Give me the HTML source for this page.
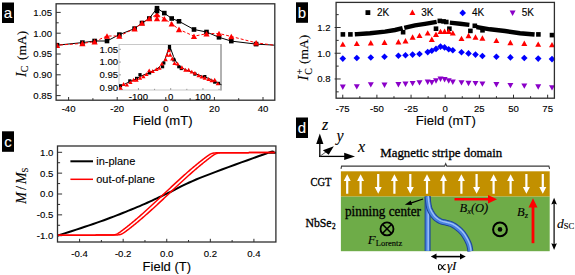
<!DOCTYPE html>
<html><head><meta charset="utf-8"><style>
html,body{margin:0;padding:0;background:#fff;overflow:hidden;width:575px;height:275px;}
svg{display:block;} text{stroke:#000;stroke-width:0.12px;} text.w{stroke:#fff;stroke-width:0.1px;} text.b{stroke-width:0.3px;}
</style></head><body>
<svg width="575" height="275" viewBox="0 0 575 275">
<rect width="575" height="275" fill="#fff"/>
<rect x="2" y="2.5" width="12" height="20.5" fill="#000"/>
<text class="w" x="8" y="18.0" font-family="Liberation Sans, sans-serif" font-size="15" fill="#fff" text-anchor="middle">a</text>
<defs><clipPath id="ca"><rect x="56.1" y="3.8" width="218.70000000000002" height="96.4"/></clipPath></defs>
<line x1="68.60" y1="100.2" x2="68.60" y2="97.0" stroke="#2e2e2e" stroke-width="1"/>
<text x="68.60" y="111.5" font-family="Liberation Sans, sans-serif" font-size="9.6" text-anchor="middle" fill="#000" >-40</text>
<line x1="117.20" y1="100.2" x2="117.20" y2="97.0" stroke="#2e2e2e" stroke-width="1"/>
<text x="117.20" y="111.5" font-family="Liberation Sans, sans-serif" font-size="9.6" text-anchor="middle" fill="#000" >-20</text>
<line x1="165.80" y1="100.2" x2="165.80" y2="97.0" stroke="#2e2e2e" stroke-width="1"/>
<text x="165.80" y="111.5" font-family="Liberation Sans, sans-serif" font-size="9.6" text-anchor="middle" fill="#000" >0</text>
<line x1="214.40" y1="100.2" x2="214.40" y2="97.0" stroke="#2e2e2e" stroke-width="1"/>
<text x="214.40" y="111.5" font-family="Liberation Sans, sans-serif" font-size="9.6" text-anchor="middle" fill="#000" >20</text>
<line x1="263.00" y1="100.2" x2="263.00" y2="97.0" stroke="#2e2e2e" stroke-width="1"/>
<text x="263.00" y="111.5" font-family="Liberation Sans, sans-serif" font-size="9.6" text-anchor="middle" fill="#000" >40</text>
<line x1="92.90" y1="100.2" x2="92.90" y2="98.2" stroke="#2e2e2e" stroke-width="1"/>
<line x1="141.50" y1="100.2" x2="141.50" y2="98.2" stroke="#2e2e2e" stroke-width="1"/>
<line x1="190.10" y1="100.2" x2="190.10" y2="98.2" stroke="#2e2e2e" stroke-width="1"/>
<line x1="238.70" y1="100.2" x2="238.70" y2="98.2" stroke="#2e2e2e" stroke-width="1"/>
<line x1="56.1" y1="95.60" x2="60.7" y2="95.60" stroke="#2e2e2e" stroke-width="1"/>
<text x="52" y="99.00" font-family="Liberation Sans, sans-serif" font-size="9.6" text-anchor="end" fill="#000" >0.85</text>
<line x1="56.1" y1="74.80" x2="60.7" y2="74.80" stroke="#2e2e2e" stroke-width="1"/>
<text x="52" y="78.20" font-family="Liberation Sans, sans-serif" font-size="9.6" text-anchor="end" fill="#000" >0.90</text>
<line x1="56.1" y1="54.00" x2="60.7" y2="54.00" stroke="#2e2e2e" stroke-width="1"/>
<text x="52" y="57.40" font-family="Liberation Sans, sans-serif" font-size="9.6" text-anchor="end" fill="#000" >0.95</text>
<line x1="56.1" y1="33.20" x2="60.7" y2="33.20" stroke="#2e2e2e" stroke-width="1"/>
<text x="52" y="36.60" font-family="Liberation Sans, sans-serif" font-size="9.6" text-anchor="end" fill="#000" >1.00</text>
<line x1="56.1" y1="12.40" x2="60.7" y2="12.40" stroke="#2e2e2e" stroke-width="1"/>
<text x="52" y="15.80" font-family="Liberation Sans, sans-serif" font-size="9.6" text-anchor="end" fill="#000" >1.05</text>
<line x1="56.1" y1="85.20" x2="58.7" y2="85.20" stroke="#2e2e2e" stroke-width="1"/>
<line x1="56.1" y1="64.40" x2="58.7" y2="64.40" stroke="#2e2e2e" stroke-width="1"/>
<line x1="56.1" y1="43.60" x2="58.7" y2="43.60" stroke="#2e2e2e" stroke-width="1"/>
<line x1="56.1" y1="22.80" x2="58.7" y2="22.80" stroke="#2e2e2e" stroke-width="1"/>
<g clip-path="url(#ca)"><polyline points="55,45.4 57,45.2 82.4,42.6 94.6,41 107,41 119.4,34.6 134.6,28.6 142,23 149.3,18.5 157,8.2 164.3,13.1 171.7,18.5 179,21.3 194,29.5 206.5,32 219,37.3 231.3,41.1 256.1,44.1 277,45.3" fill="none" stroke="#000" stroke-width="1"/><polyline points="55,45.4 57,45.2 82.4,43.4 94.6,41.6 107,36 119.4,36 134.6,28.6 142,23 149.3,18.5 157,14.4 164.3,18.8 171.7,23.7 179,29.4 194,36.2 206.5,33.7 219,33.5 231.3,36.5 256.1,42.8 277,45.6" fill="none" stroke="#f00" stroke-width="1" stroke-dasharray="3,2"/><rect x="54.70" y="42.90" width="4.6" height="4.6" fill="#000"/><rect x="80.10" y="40.30" width="4.6" height="4.6" fill="#000"/><rect x="92.30" y="38.70" width="4.6" height="4.6" fill="#000"/><rect x="104.70" y="38.70" width="4.6" height="4.6" fill="#000"/><rect x="117.10" y="32.30" width="4.6" height="4.6" fill="#000"/><rect x="132.30" y="26.30" width="4.6" height="4.6" fill="#000"/><rect x="139.70" y="20.70" width="4.6" height="4.6" fill="#000"/><rect x="147.00" y="16.20" width="4.6" height="4.6" fill="#000"/><rect x="154.70" y="5.90" width="4.6" height="4.6" fill="#000"/><rect x="162.00" y="10.80" width="4.6" height="4.6" fill="#000"/><rect x="169.40" y="16.20" width="4.6" height="4.6" fill="#000"/><rect x="176.70" y="19.00" width="4.6" height="4.6" fill="#000"/><rect x="191.70" y="27.20" width="4.6" height="4.6" fill="#000"/><rect x="204.20" y="29.70" width="4.6" height="4.6" fill="#000"/><rect x="216.70" y="35.00" width="4.6" height="4.6" fill="#000"/><rect x="229.00" y="38.80" width="4.6" height="4.6" fill="#000"/><rect x="253.80" y="41.80" width="4.6" height="4.6" fill="#000"/><rect x="274.70" y="43.00" width="4.6" height="4.6" fill="#000"/><path d="M53.90,47.99L60.10,47.99L57.00,42.41Z" fill="#f00"/><path d="M79.30,46.19L85.50,46.19L82.40,40.61Z" fill="#f00"/><path d="M91.50,44.39L97.70,44.39L94.60,38.81Z" fill="#f00"/><path d="M103.90,38.79L110.10,38.79L107.00,33.21Z" fill="#f00"/><path d="M116.30,38.79L122.50,38.79L119.40,33.21Z" fill="#f00"/><path d="M131.50,31.39L137.70,31.39L134.60,25.81Z" fill="#f00"/><path d="M138.90,25.79L145.10,25.79L142.00,20.21Z" fill="#f00"/><path d="M146.20,21.29L152.40,21.29L149.30,15.71Z" fill="#f00"/><path d="M153.90,17.19L160.10,17.19L157.00,11.61Z" fill="#f00"/><path d="M161.20,21.59L167.40,21.59L164.30,16.01Z" fill="#f00"/><path d="M168.60,26.49L174.80,26.49L171.70,20.91Z" fill="#f00"/><path d="M175.90,32.19L182.10,32.19L179.00,26.61Z" fill="#f00"/><path d="M190.90,38.99L197.10,38.99L194.00,33.41Z" fill="#f00"/><path d="M203.40,36.49L209.60,36.49L206.50,30.91Z" fill="#f00"/><path d="M215.90,36.29L222.10,36.29L219.00,30.71Z" fill="#f00"/><path d="M228.20,39.29L234.40,39.29L231.30,33.71Z" fill="#f00"/><path d="M253.00,45.59L259.20,45.59L256.10,40.01Z" fill="#f00"/><path d="M273.90,48.39L280.10,48.39L277.00,42.81Z" fill="#f00"/><path d="M153.90,21.19L160.10,21.19L157.00,15.61Z" fill="#f00"/><rect x="154.70" y="8.70" width="4.6" height="4.6" fill="#000"/></g>
<rect x="56.1" y="3.8" width="218.70000000000002" height="96.4" fill="none" stroke="#2e2e2e" stroke-width="1.3"/>
<text x="162.7" y="124.6" font-family="Liberation Sans, sans-serif" font-size="13.1" text-anchor="middle" fill="#000" >Field (mT)</text>
<g transform="translate(25.6,54.0) rotate(-90)"><text x="0" y="0" font-family="Liberation Serif, serif" font-size="14.2" text-anchor="middle"><tspan font-style="italic">I</tspan><tspan font-size="10" dy="2.4">C</tspan><tspan font-size="13.4" dx="2.4" dy="-2.4"> (mA)</tspan></text></g>
<rect x="119" y="44.5" width="102" height="45.5" fill="#fff" stroke="#c8c8c8" stroke-width="1"/>
<line x1="221" y1="44.0" x2="221" y2="90.5" stroke="#808080" stroke-width="1"/>
<line x1="119" y1="49.30" x2="121" y2="49.30" stroke="#888" stroke-width="0.8"/>
<text x="118.1" y="52.70" font-family="Liberation Sans, sans-serif" font-size="9.6" text-anchor="end" fill="#000" >1.05</text>
<line x1="119" y1="62.07" x2="121" y2="62.07" stroke="#888" stroke-width="0.8"/>
<text x="118.1" y="65.47" font-family="Liberation Sans, sans-serif" font-size="9.6" text-anchor="end" fill="#000" >1.00</text>
<line x1="119" y1="74.84" x2="121" y2="74.84" stroke="#888" stroke-width="0.8"/>
<text x="118.1" y="78.24" font-family="Liberation Sans, sans-serif" font-size="9.6" text-anchor="end" fill="#000" >0.95</text>
<line x1="119" y1="87.61" x2="121" y2="87.61" stroke="#888" stroke-width="0.8"/>
<text x="118.1" y="91.01" font-family="Liberation Sans, sans-serif" font-size="9.6" text-anchor="end" fill="#000" >0.90</text>
<line x1="138.45" y1="90" x2="138.45" y2="88" stroke="#888" stroke-width="0.8"/>
<text x="138.45" y="100.3" font-family="Liberation Sans, sans-serif" font-size="9.6" text-anchor="middle" fill="#000" >-100</text>
<line x1="170.70" y1="90" x2="170.70" y2="88" stroke="#888" stroke-width="0.8"/>
<text x="170.70" y="100.3" font-family="Liberation Sans, sans-serif" font-size="9.6" text-anchor="middle" fill="#000" >0</text>
<line x1="202.95" y1="90" x2="202.95" y2="88" stroke="#888" stroke-width="0.8"/>
<text x="202.95" y="100.3" font-family="Liberation Sans, sans-serif" font-size="9.6" text-anchor="middle" fill="#000" >100</text>
<line x1="122.32" y1="90" x2="122.32" y2="88.8" stroke="#888" stroke-width="0.8"/>
<line x1="154.57" y1="90" x2="154.57" y2="88.8" stroke="#888" stroke-width="0.8"/>
<line x1="186.82" y1="90" x2="186.82" y2="88.8" stroke="#888" stroke-width="0.8"/>
<line x1="219.07" y1="90" x2="219.07" y2="88.8" stroke="#888" stroke-width="0.8"/>
<g clip-path="url(#ci)"><defs><clipPath id="ci"><rect x="119" y="44" width="102.5" height="46"/></clipPath></defs><polyline points="119,86.8 125,84 130,81.5 136,79 140,76.5 146,74 150,72.3 156,69.5 160,66.5 163,63.5 165.5,58 167.5,52 169.5,45.7 171.5,51 173.5,56.5 176.3,62 180,66.5 185,69.5 190,71.5 195,73.5 200,75.5 205,77 210,79 215,81.5 219,83.5 222,85" fill="none" stroke="#000" stroke-width="1"/><rect x="118.90" y="84.20" width="3.2" height="3.2" fill="#000"/><rect x="128.20" y="79.30" width="3.2" height="3.2" fill="#000"/><rect x="135.00" y="76.80" width="3.2" height="3.2" fill="#000"/><rect x="138.40" y="73.10" width="3.2" height="3.2" fill="#000"/><rect x="148.00" y="71.30" width="3.2" height="3.2" fill="#000"/><rect x="161.00" y="65.10" width="3.2" height="3.2" fill="#000"/><rect x="162.20" y="61.40" width="3.2" height="3.2" fill="#000"/><rect x="167.90" y="44.90" width="3.2" height="3.2" fill="#000"/><rect x="167.90" y="47.40" width="3.2" height="3.2" fill="#000"/><rect x="172.30" y="58.30" width="3.2" height="3.2" fill="#000"/><rect x="177.20" y="65.10" width="3.2" height="3.2" fill="#000"/><rect x="179.70" y="66.90" width="3.2" height="3.2" fill="#000"/><rect x="193.30" y="72.50" width="3.2" height="3.2" fill="#000"/><rect x="203.20" y="75.00" width="3.2" height="3.2" fill="#000"/><rect x="213.10" y="80.50" width="3.2" height="3.2" fill="#000"/><rect x="216.80" y="81.80" width="3.2" height="3.2" fill="#000"/><path d="M118.35,89.64L122.65,89.64L120.50,85.77Z" fill="#f00"/><path d="M121.45,85.94L125.75,85.94L123.60,82.06Z" fill="#f00"/><path d="M124.75,86.53L129.05,86.53L126.90,82.66Z" fill="#f00"/><path d="M128.25,84.03L132.55,84.03L130.40,80.16Z" fill="#f00"/><path d="M131.35,81.64L135.65,81.64L133.50,77.77Z" fill="#f00"/><path d="M134.45,81.64L138.75,81.64L136.60,77.77Z" fill="#f00"/><path d="M137.85,79.73L142.15,79.73L140.00,75.86Z" fill="#f00"/><path d="M141.25,78.23L145.55,78.23L143.40,74.36Z" fill="#f00"/><path d="M144.35,76.03L148.65,76.03L146.50,72.16Z" fill="#f00"/><path d="M147.05,72.34L151.35,72.34L149.20,68.47Z" fill="#f00"/><path d="M150.55,72.94L154.85,72.94L152.70,69.06Z" fill="#f00"/><path d="M154.25,71.03L158.55,71.03L156.40,67.16Z" fill="#f00"/><path d="M157.35,69.84L161.65,69.84L159.50,65.97Z" fill="#f00"/><path d="M159.75,65.53L164.05,65.53L161.90,61.66Z" fill="#f00"/><path d="M163.45,61.14L167.75,61.14L165.60,57.27Z" fill="#f00"/><path d="M165.05,56.73L169.35,56.73L167.20,52.86Z" fill="#f00"/><path d="M166.75,52.34L171.05,52.34L168.90,48.46Z" fill="#f00"/><path d="M168.05,56.73L172.35,56.73L170.20,52.86Z" fill="#f00"/><path d="M170.15,60.44L174.45,60.44L172.30,56.56Z" fill="#f00"/><path d="M172.35,64.94L176.65,64.94L174.50,61.06Z" fill="#f00"/><path d="M175.45,65.53L179.75,65.53L177.60,61.66Z" fill="#f00"/><path d="M179.75,69.23L184.05,69.23L181.90,65.36Z" fill="#f00"/><path d="M183.25,71.73L187.55,71.73L185.40,67.86Z" fill="#f00"/><path d="M186.55,71.73L190.85,71.73L188.70,67.86Z" fill="#f00"/><path d="M189.65,73.53L193.95,73.53L191.80,69.66Z" fill="#f00"/><path d="M192.75,74.84L197.05,74.84L194.90,70.97Z" fill="#f00"/><path d="M196.45,77.23L200.75,77.23L198.60,73.36Z" fill="#f00"/><path d="M199.55,78.53L203.85,78.53L201.70,74.66Z" fill="#f00"/><path d="M202.65,79.73L206.95,79.73L204.80,75.86Z" fill="#f00"/><path d="M206.35,80.94L210.65,80.94L208.50,77.06Z" fill="#f00"/><path d="M209.45,82.23L213.75,82.23L211.60,78.36Z" fill="#f00"/><path d="M212.55,81.64L216.85,81.64L214.70,77.77Z" fill="#f00"/><path d="M215.65,85.34L219.95,85.34L217.80,81.47Z" fill="#f00"/></g>
<rect x="296" y="2.3" width="12" height="20.5" fill="#000"/>
<text class="w" x="302" y="17.8" font-family="Liberation Sans, sans-serif" font-size="15" fill="#fff" text-anchor="middle">b</text>
<line x1="342.75" y1="98.2" x2="342.75" y2="94.7" stroke="#2e2e2e" stroke-width="1"/>
<text x="342.75" y="111.8" font-family="Liberation Sans, sans-serif" font-size="9.6" text-anchor="middle" fill="#000" >-75</text>
<line x1="376.90" y1="98.2" x2="376.90" y2="94.7" stroke="#2e2e2e" stroke-width="1"/>
<text x="376.90" y="111.8" font-family="Liberation Sans, sans-serif" font-size="9.6" text-anchor="middle" fill="#000" >-50</text>
<line x1="411.05" y1="98.2" x2="411.05" y2="94.7" stroke="#2e2e2e" stroke-width="1"/>
<text x="411.05" y="111.8" font-family="Liberation Sans, sans-serif" font-size="9.6" text-anchor="middle" fill="#000" >-25</text>
<line x1="445.20" y1="98.2" x2="445.20" y2="94.7" stroke="#2e2e2e" stroke-width="1"/>
<text x="445.20" y="111.8" font-family="Liberation Sans, sans-serif" font-size="9.6" text-anchor="middle" fill="#000" >0</text>
<line x1="479.35" y1="98.2" x2="479.35" y2="94.7" stroke="#2e2e2e" stroke-width="1"/>
<text x="479.35" y="111.8" font-family="Liberation Sans, sans-serif" font-size="9.6" text-anchor="middle" fill="#000" >25</text>
<line x1="513.50" y1="98.2" x2="513.50" y2="94.7" stroke="#2e2e2e" stroke-width="1"/>
<text x="513.50" y="111.8" font-family="Liberation Sans, sans-serif" font-size="9.6" text-anchor="middle" fill="#000" >50</text>
<line x1="547.65" y1="98.2" x2="547.65" y2="94.7" stroke="#2e2e2e" stroke-width="1"/>
<text x="547.65" y="111.8" font-family="Liberation Sans, sans-serif" font-size="9.6" text-anchor="middle" fill="#000" >75</text>
<line x1="359.82" y1="98.2" x2="359.82" y2="96.2" stroke="#2e2e2e" stroke-width="1"/>
<line x1="393.97" y1="98.2" x2="393.97" y2="96.2" stroke="#2e2e2e" stroke-width="1"/>
<line x1="428.12" y1="98.2" x2="428.12" y2="96.2" stroke="#2e2e2e" stroke-width="1"/>
<line x1="462.27" y1="98.2" x2="462.27" y2="96.2" stroke="#2e2e2e" stroke-width="1"/>
<line x1="496.43" y1="98.2" x2="496.43" y2="96.2" stroke="#2e2e2e" stroke-width="1"/>
<line x1="530.58" y1="98.2" x2="530.58" y2="96.2" stroke="#2e2e2e" stroke-width="1"/>
<line x1="334.6" y1="78.98" x2="340.70000000000005" y2="78.98" stroke="#2e2e2e" stroke-width="1"/>
<text x="330.5" y="82.38" font-family="Liberation Sans, sans-serif" font-size="9.6" text-anchor="end" fill="#000" >0.8</text>
<line x1="334.6" y1="53.24" x2="340.70000000000005" y2="53.24" stroke="#2e2e2e" stroke-width="1"/>
<text x="330.5" y="56.64" font-family="Liberation Sans, sans-serif" font-size="9.6" text-anchor="end" fill="#000" >1.0</text>
<line x1="334.6" y1="27.50" x2="340.70000000000005" y2="27.50" stroke="#2e2e2e" stroke-width="1"/>
<text x="330.5" y="30.90" font-family="Liberation Sans, sans-serif" font-size="9.6" text-anchor="end" fill="#000" >1.2</text>
<line x1="336.1" y1="91.85" x2="338.70000000000005" y2="91.85" stroke="#2e2e2e" stroke-width="1"/>
<line x1="336.1" y1="66.11" x2="338.70000000000005" y2="66.11" stroke="#2e2e2e" stroke-width="1"/>
<line x1="336.1" y1="40.37" x2="338.70000000000005" y2="40.37" stroke="#2e2e2e" stroke-width="1"/>
<line x1="336.1" y1="14.63" x2="338.70000000000005" y2="14.63" stroke="#2e2e2e" stroke-width="1"/>
<polyline points="357.0,34.1 370,33.2 385,31.6 395,30 400.5,28.6" fill="none" stroke="#000" stroke-width="4.4" stroke-linecap="square"/><polyline points="406.4,27.4 415,25.4 425,23.8 434.5,22.2" fill="none" stroke="#000" stroke-width="4.4" stroke-linecap="square"/><polyline points="452,22.9 460,23.8 467.2,24.6" fill="none" stroke="#000" stroke-width="4.4" stroke-linecap="square"/><polyline points="478.6,27.4 490,29.3 505,31 520,33.2 532.4,34.3" fill="none" stroke="#000" stroke-width="4.4" stroke-linecap="square"/><rect x="340.60" y="32.10" width="4.6" height="4.6" fill="#000"/><rect x="348.10" y="32.10" width="4.6" height="4.6" fill="#000"/><rect x="400.80" y="29.90" width="4.6" height="4.6" fill="#000"/><rect x="433.70" y="26.40" width="4.6" height="4.6" fill="#000"/><rect x="437.50" y="18.60" width="4.6" height="4.6" fill="#000"/><rect x="441.30" y="19.10" width="4.6" height="4.6" fill="#000"/><rect x="444.00" y="19.70" width="4.6" height="4.6" fill="#000"/><rect x="447.10" y="26.40" width="4.6" height="4.6" fill="#000"/><rect x="468.10" y="28.60" width="4.6" height="4.6" fill="#000"/><rect x="472.50" y="23.50" width="4.6" height="4.6" fill="#000"/><rect x="480.20" y="28.00" width="4.6" height="4.6" fill="#000"/><rect x="536.10" y="32.10" width="4.6" height="4.6" fill="#000"/><rect x="549.70" y="32.80" width="4.6" height="4.6" fill="#000"/><path d="M339.80,46.80L345.80,46.80L342.80,41.40Z" fill="#f00"/><path d="M353.80,46.10L359.80,46.10L356.80,40.70Z" fill="#f00"/><path d="M367.80,45.50L373.80,45.50L370.80,40.10Z" fill="#f00"/><path d="M381.50,45.00L387.50,45.00L384.50,39.60Z" fill="#f00"/><path d="M395.40,44.50L401.40,44.50L398.40,39.10Z" fill="#f00"/><path d="M402.50,43.50L408.50,43.50L405.50,38.10Z" fill="#f00"/><path d="M409.60,39.70L415.60,39.70L412.60,34.30Z" fill="#f00"/><path d="M416.50,38.10L422.50,38.10L419.50,32.70Z" fill="#f00"/><path d="M424.70,35.60L430.70,35.60L427.70,30.20Z" fill="#f00"/><path d="M428.80,42.00L434.80,42.00L431.80,36.60Z" fill="#f00"/><path d="M433.00,37.00L439.00,37.00L436.00,31.60Z" fill="#f00"/><path d="M437.50,34.10L443.50,34.10L440.50,28.70Z" fill="#f00"/><path d="M441.60,34.00L447.60,34.00L444.60,28.60Z" fill="#f00"/><path d="M445.70,34.00L451.70,34.00L448.70,28.60Z" fill="#f00"/><path d="M449.80,35.60L455.80,35.60L452.80,30.20Z" fill="#f00"/><path d="M458.50,41.10L464.50,41.10L461.50,35.70Z" fill="#f00"/><path d="M465.50,38.20L471.50,38.20L468.50,32.80Z" fill="#f00"/><path d="M472.50,39.70L478.50,39.70L475.50,34.30Z" fill="#f00"/><path d="M479.40,40.70L485.40,40.70L482.40,35.30Z" fill="#f00"/><path d="M493.40,43.10L499.40,43.10L496.40,37.70Z" fill="#f00"/><path d="M507.40,45.20L513.40,45.20L510.40,39.80Z" fill="#f00"/><path d="M521.30,46.00L527.30,46.00L524.30,40.60Z" fill="#f00"/><path d="M535.20,46.80L541.20,46.80L538.20,41.40Z" fill="#f00"/><path d="M549.00,47.30L555.00,47.30L552.00,41.90Z" fill="#f00"/><path d="M342.80,55.30L346.10,58.60L342.80,61.90L339.50,58.60Z" fill="#00f"/><path d="M356.80,54.70L360.10,58.00L356.80,61.30L353.50,58.00Z" fill="#00f"/><path d="M370.80,54.20L374.10,57.50L370.80,60.80L367.50,57.50Z" fill="#00f"/><path d="M384.50,53.40L387.80,56.70L384.50,60.00L381.20,56.70Z" fill="#00f"/><path d="M398.40,52.40L401.70,55.70L398.40,59.00L395.10,55.70Z" fill="#00f"/><path d="M405.50,52.00L408.80,55.30L405.50,58.60L402.20,55.30Z" fill="#00f"/><path d="M412.60,51.30L415.90,54.60L412.60,57.90L409.30,54.60Z" fill="#00f"/><path d="M419.50,50.70L422.80,54.00L419.50,57.30L416.20,54.00Z" fill="#00f"/><path d="M427.70,48.80L431.00,52.10L427.70,55.40L424.40,52.10Z" fill="#00f"/><path d="M431.80,47.50L435.10,50.80L431.80,54.10L428.50,50.80Z" fill="#00f"/><path d="M436.00,45.60L439.30,48.90L436.00,52.20L432.70,48.90Z" fill="#00f"/><path d="M440.50,43.30L443.80,46.60L440.50,49.90L437.20,46.60Z" fill="#00f"/><path d="M444.60,44.10L447.90,47.40L444.60,50.70L441.30,47.40Z" fill="#00f"/><path d="M448.70,45.90L452.00,49.20L448.70,52.50L445.40,49.20Z" fill="#00f"/><path d="M452.80,47.00L456.10,50.30L452.80,53.60L449.50,50.30Z" fill="#00f"/><path d="M461.50,49.00L464.80,52.30L461.50,55.60L458.20,52.30Z" fill="#00f"/><path d="M468.50,50.10L471.80,53.40L468.50,56.70L465.20,53.40Z" fill="#00f"/><path d="M475.50,51.30L478.80,54.60L475.50,57.90L472.20,54.60Z" fill="#00f"/><path d="M482.40,52.70L485.70,56.00L482.40,59.30L479.10,56.00Z" fill="#00f"/><path d="M496.40,53.40L499.70,56.70L496.40,60.00L493.10,56.70Z" fill="#00f"/><path d="M510.40,54.10L513.70,57.40L510.40,60.70L507.10,57.40Z" fill="#00f"/><path d="M524.30,54.70L527.60,58.00L524.30,61.30L521.00,58.00Z" fill="#00f"/><path d="M538.20,55.30L541.50,58.60L538.20,61.90L534.90,58.60Z" fill="#00f"/><path d="M552.00,55.80L555.30,59.10L552.00,62.40L548.70,59.10Z" fill="#00f"/><path d="M339.80,84.50L345.80,84.50L342.80,89.90Z" fill="#8a00c8"/><path d="M353.80,84.20L359.80,84.20L356.80,89.60Z" fill="#8a00c8"/><path d="M367.80,82.20L373.80,82.20L370.80,87.60Z" fill="#8a00c8"/><path d="M381.50,82.50L387.50,82.50L384.50,87.90Z" fill="#8a00c8"/><path d="M395.40,82.00L401.40,82.00L398.40,87.40Z" fill="#8a00c8"/><path d="M402.50,81.60L408.50,81.60L405.50,87.00Z" fill="#8a00c8"/><path d="M409.60,80.90L415.60,80.90L412.60,86.30Z" fill="#8a00c8"/><path d="M416.50,80.20L422.50,80.20L419.50,85.60Z" fill="#8a00c8"/><path d="M424.70,79.60L430.70,79.60L427.70,85.00Z" fill="#8a00c8"/><path d="M428.80,80.10L434.80,80.10L431.80,85.50Z" fill="#8a00c8"/><path d="M433.00,78.30L439.00,78.30L436.00,83.70Z" fill="#8a00c8"/><path d="M437.50,76.50L443.50,76.50L440.50,81.90Z" fill="#8a00c8"/><path d="M441.60,77.00L447.60,77.00L444.60,82.40Z" fill="#8a00c8"/><path d="M445.70,78.30L451.70,78.30L448.70,83.70Z" fill="#8a00c8"/><path d="M449.80,79.60L455.80,79.60L452.80,85.00Z" fill="#8a00c8"/><path d="M458.50,80.20L464.50,80.20L461.50,85.60Z" fill="#8a00c8"/><path d="M465.50,80.80L471.50,80.80L468.50,86.20Z" fill="#8a00c8"/><path d="M472.50,80.90L478.50,80.90L475.50,86.30Z" fill="#8a00c8"/><path d="M479.40,81.40L485.40,81.40L482.40,86.80Z" fill="#8a00c8"/><path d="M493.40,82.00L499.40,82.00L496.40,87.40Z" fill="#8a00c8"/><path d="M507.40,82.90L513.40,82.90L510.40,88.30Z" fill="#8a00c8"/><path d="M521.30,83.40L527.30,83.40L524.30,88.80Z" fill="#8a00c8"/><path d="M535.20,84.30L541.20,84.30L538.20,89.70Z" fill="#8a00c8"/><path d="M549.00,85.20L555.00,85.20L552.00,90.60Z" fill="#8a00c8"/>
<rect x="336.1" y="2.4" width="218.29999999999995" height="95.8" fill="none" stroke="#2e2e2e" stroke-width="1.3"/>
<rect x="365.50" y="10.20" width="4.8" height="4.8" fill="#000"/>
<text x="377" y="16.2" font-family="Liberation Sans, sans-serif" font-size="10" text-anchor="start" fill="#000" >2K</text>
<path d="M409.40,15.00L415.40,15.00L412.40,9.60Z" fill="#f00"/>
<text x="421.2" y="16.2" font-family="Liberation Sans, sans-serif" font-size="10" text-anchor="start" fill="#000" >3K</text>
<path d="M462.70,9.60L466.00,12.90L462.70,16.20L459.40,12.90Z" fill="#00f"/>
<text x="471.9" y="16.2" font-family="Liberation Sans, sans-serif" font-size="10" text-anchor="start" fill="#000" >4K</text>
<path d="M509.60,10.50L515.60,10.50L512.60,15.90Z" fill="#8a00c8"/>
<text x="521.7" y="16.2" font-family="Liberation Sans, sans-serif" font-size="10" text-anchor="start" fill="#000" >5K</text>
<text x="445.8" y="124.6" font-family="Liberation Sans, sans-serif" font-size="13.2" text-anchor="middle" fill="#000" >Field (mT)</text>
<g transform="translate(308.4,57.6) rotate(-90)"><text x="0" y="0" font-family="Liberation Serif, serif" font-size="14.5" text-anchor="middle"><tspan font-style="italic">I</tspan><tspan font-size="10" dx="0.8" dy="3.2">C</tspan><tspan font-size="10" dx="-6.4" dy="-8.6">+</tspan><tspan font-size="13.5" dx="1.6" dy="5.4"> (mA)</tspan></text></g>
<rect x="2" y="131.3" width="12" height="20.5" fill="#000"/>
<text class="w" x="8" y="146.8" font-family="Liberation Sans, sans-serif" font-size="15" fill="#fff" text-anchor="middle">c</text>
<line x1="79.59" y1="242.0" x2="79.59" y2="238.8" stroke="#2e2e2e" stroke-width="1"/>
<text x="79.59" y="256.5" font-family="Liberation Sans, sans-serif" font-size="9.6" text-anchor="middle" fill="#000" >-0.4</text>
<line x1="123.17" y1="242.0" x2="123.17" y2="238.8" stroke="#2e2e2e" stroke-width="1"/>
<text x="123.17" y="256.5" font-family="Liberation Sans, sans-serif" font-size="9.6" text-anchor="middle" fill="#000" >-0.2</text>
<line x1="166.75" y1="242.0" x2="166.75" y2="238.8" stroke="#2e2e2e" stroke-width="1"/>
<text x="166.75" y="256.5" font-family="Liberation Sans, sans-serif" font-size="9.6" text-anchor="middle" fill="#000" >0.0</text>
<line x1="210.33" y1="242.0" x2="210.33" y2="238.8" stroke="#2e2e2e" stroke-width="1"/>
<text x="210.33" y="256.5" font-family="Liberation Sans, sans-serif" font-size="9.6" text-anchor="middle" fill="#000" >0.2</text>
<line x1="253.91" y1="242.0" x2="253.91" y2="238.8" stroke="#2e2e2e" stroke-width="1"/>
<text x="253.91" y="256.5" font-family="Liberation Sans, sans-serif" font-size="9.6" text-anchor="middle" fill="#000" >0.4</text>
<line x1="101.38" y1="242.0" x2="101.38" y2="240.0" stroke="#2e2e2e" stroke-width="1"/>
<line x1="144.96" y1="242.0" x2="144.96" y2="240.0" stroke="#2e2e2e" stroke-width="1"/>
<line x1="188.54" y1="242.0" x2="188.54" y2="240.0" stroke="#2e2e2e" stroke-width="1"/>
<line x1="232.12" y1="242.0" x2="232.12" y2="240.0" stroke="#2e2e2e" stroke-width="1"/>
<line x1="57.5" y1="235.70" x2="62.1" y2="235.70" stroke="#2e2e2e" stroke-width="1"/>
<text x="53.4" y="239.10" font-family="Liberation Sans, sans-serif" font-size="9.6" text-anchor="end" fill="#000" >-1.0</text>
<line x1="57.5" y1="214.85" x2="62.1" y2="214.85" stroke="#2e2e2e" stroke-width="1"/>
<text x="53.4" y="218.25" font-family="Liberation Sans, sans-serif" font-size="9.6" text-anchor="end" fill="#000" >-0.5</text>
<line x1="57.5" y1="194.00" x2="62.1" y2="194.00" stroke="#2e2e2e" stroke-width="1"/>
<text x="53.4" y="197.40" font-family="Liberation Sans, sans-serif" font-size="9.6" text-anchor="end" fill="#000" >0.0</text>
<line x1="57.5" y1="173.15" x2="62.1" y2="173.15" stroke="#2e2e2e" stroke-width="1"/>
<text x="53.4" y="176.55" font-family="Liberation Sans, sans-serif" font-size="9.6" text-anchor="end" fill="#000" >0.5</text>
<line x1="57.5" y1="152.30" x2="62.1" y2="152.30" stroke="#2e2e2e" stroke-width="1"/>
<text x="53.4" y="155.70" font-family="Liberation Sans, sans-serif" font-size="9.6" text-anchor="end" fill="#000" >1.0</text>
<line x1="57.5" y1="225.28" x2="60.1" y2="225.28" stroke="#2e2e2e" stroke-width="1"/>
<line x1="57.5" y1="204.43" x2="60.1" y2="204.43" stroke="#2e2e2e" stroke-width="1"/>
<line x1="57.5" y1="183.57" x2="60.1" y2="183.57" stroke="#2e2e2e" stroke-width="1"/>
<line x1="57.5" y1="162.72" x2="60.1" y2="162.72" stroke="#2e2e2e" stroke-width="1"/>
<g clip-path="url(#cc)"><defs><clipPath id="cc"><rect x="57" y="145" width="219" height="97"/></clipPath></defs><polyline points="56.50,236.00 58.66,235.29 61.39,234.41 64.60,233.37 68.22,232.20 72.14,230.93 76.28,229.59 80.54,228.19 84.84,226.78 89.08,225.36 93.19,223.98 97.05,222.65 100.60,221.40 103.92,220.20 107.19,219.00 110.40,217.81 113.55,216.61 116.65,215.42 119.70,214.23 122.69,213.05 125.64,211.87 128.55,210.69 131.41,209.52 134.22,208.36 137.00,207.20 139.70,206.06 142.30,204.94 144.82,203.83 147.28,202.73 149.69,201.64 152.07,200.55 154.44,199.45 156.82,198.34 159.22,197.22 161.67,196.07 164.17,194.90 166.75,193.70 169.29,192.49 171.71,191.30 174.04,190.11 176.35,188.92 178.69,187.72 181.10,186.48 183.63,185.21 186.35,183.89 189.29,182.51 192.51,181.06 196.06,179.53 200.00,177.90 204.56,176.09 209.84,174.06 215.68,171.85 221.92,169.52 228.38,167.14 234.91,164.75 241.34,162.42 247.50,160.19 253.23,158.13 258.37,156.29 262.75,154.73 266.20,153.50 268.72,152.61 270.47,152.01 271.58,151.66 272.14,151.51 272.27,151.53 272.08,151.67 271.69,151.89 271.20,152.16 270.72,152.43 270.37,152.66 270.26,152.81 270.50,152.85 270.99,152.81 271.53,152.78 272.12,152.75 272.74,152.73 273.38,152.70 274.02,152.68 274.64,152.67 275.23,152.65 275.78,152.64 276.27,152.62 276.68,152.61 277.00,152.60" fill="none" stroke="#000" stroke-width="2"/><polyline points="56.71,235.30 57.26,235.30 57.80,235.30 58.34,235.30 58.89,235.29 59.43,235.29 59.98,235.29 60.52,235.29 61.07,235.28 61.61,235.28 62.16,235.28 62.70,235.28 63.25,235.27 63.79,235.27 64.34,235.27 64.88,235.27 65.43,235.26 65.97,235.26 66.52,235.26 67.06,235.26 67.61,235.25 68.15,235.25 68.69,235.25 69.24,235.25 69.78,235.24 70.33,235.24 70.87,235.24 71.42,235.24 71.96,235.23 72.51,235.23 73.05,235.23 73.60,235.23 74.14,235.22 74.69,235.22 75.23,235.22 75.78,235.22 76.32,235.21 76.87,235.21 77.41,235.21 77.96,235.21 78.50,235.20 79.05,235.20 79.59,235.20 80.13,235.20 80.68,235.19 81.22,235.19 81.77,235.19 82.31,235.19 82.86,235.18 83.40,235.18 83.95,235.18 84.49,235.18 85.04,235.17 85.58,235.17 86.13,235.17 86.67,235.17 87.22,235.16 87.76,235.16 88.31,235.16 88.85,235.16 89.40,235.15 89.94,235.15 90.48,235.15 91.03,235.15 91.57,235.14 92.12,235.14 92.66,235.14 93.21,235.14 93.75,235.13 94.30,235.13 94.84,235.13 95.39,235.13 95.93,235.12 96.48,235.12 97.02,235.12 97.57,235.12 98.11,235.11 98.66,235.11 99.20,235.11 99.75,235.11 100.29,235.10 100.84,235.10 101.38,235.10 101.92,235.10 102.47,235.09 103.01,235.09 103.56,235.09 104.10,235.09 104.65,235.08 105.19,235.08 105.74,235.08 106.28,235.07 106.83,235.07 107.37,235.07 107.92,235.06 108.46,235.06 109.01,235.05 109.55,235.04 110.10,235.04 110.64,235.02 111.19,235.01 111.73,234.99 112.28,234.96 112.82,234.93 113.36,234.88 113.91,234.82 114.45,234.73 115.00,234.62 115.54,234.48 116.09,234.30 116.63,234.08 117.18,233.83 117.72,233.55 118.27,233.23 118.81,232.89 119.36,232.53 119.90,232.16 120.45,231.78 120.99,231.38 121.54,230.98 122.08,230.58 122.63,230.17 123.17,229.76 123.71,229.34 124.26,228.92 124.80,228.50 125.35,228.08 125.89,227.65 126.44,227.22 126.98,226.79 127.53,226.36 128.07,225.93 128.62,225.49 129.16,225.05 129.71,224.61 130.25,224.17 130.80,223.72 131.34,223.28 131.89,222.83 132.43,222.38 132.98,221.92 133.52,221.47 134.06,221.01 134.61,220.55 135.15,220.09 135.70,219.63 136.24,219.17 136.79,218.70 137.33,218.23 137.88,217.76 138.42,217.29 138.97,216.82 139.51,216.35 140.06,215.87 140.60,215.39 141.15,214.91 141.69,214.43 142.24,213.95 142.78,213.47 143.33,212.98 143.87,212.50 144.42,212.01 144.96,211.52 145.50,211.03 146.05,210.54 146.59,210.04 147.14,209.55 147.68,209.05 148.23,208.56 148.77,208.06 149.32,207.56 149.86,207.06 150.41,206.56 150.95,206.06 151.50,205.56 152.04,205.05 152.59,204.55 153.13,204.04 153.68,203.54 154.22,203.03 154.77,202.52 155.31,202.02 155.85,201.51 156.40,201.00 156.94,200.49 157.49,199.98 158.03,199.47 158.58,198.96 159.12,198.45 159.67,197.93 160.21,197.42 160.76,196.91 161.30,196.40 161.85,195.88 162.39,195.37 162.94,194.86 163.48,194.34 164.03,193.83 164.57,193.32 165.12,192.80 165.66,192.29 166.21,191.78 166.75,191.27 167.29,190.75 167.84,190.24 168.38,189.73 168.93,189.22 169.47,188.71 170.02,188.19 170.56,187.68 171.11,187.17 171.65,186.66 172.20,186.16 172.74,185.65 173.29,185.14 173.83,184.63 174.38,184.13 174.92,183.62 175.47,183.12 176.01,182.61 176.56,182.11 177.10,181.61 177.65,181.10 178.19,180.60 178.73,180.11 179.28,179.61 179.82,179.11 180.37,178.61 180.91,178.12 181.46,177.62 182.00,177.13 182.55,176.64 183.09,176.15 183.64,175.66 184.18,175.17 184.73,174.69 185.27,174.20 185.82,173.72 186.36,173.24 186.91,172.76 187.45,172.28 188.00,171.80 188.54,171.33 189.08,170.85 189.63,170.38 190.17,169.91 190.72,169.44 191.26,168.98 191.81,168.51 192.35,168.05 192.90,167.59 193.44,167.13 193.99,166.67 194.53,166.21 195.08,165.76 195.62,165.31 196.17,164.86 196.71,164.41 197.26,163.96 197.80,163.52 198.35,163.07 198.89,162.63 199.44,162.20 199.98,161.76 200.52,161.33 201.07,160.89 201.61,160.46 202.16,160.04 202.70,159.61 203.25,159.19 203.79,158.77 204.34,158.35 204.88,157.94 205.43,157.53 205.97,157.12 206.52,156.71 207.06,156.32 207.61,155.93 208.15,155.54 208.70,155.18 209.24,154.82 209.79,154.49 210.33,154.18 210.87,153.91 211.42,153.67 211.96,153.46 212.51,153.30 213.05,153.17 213.60,153.06 214.14,152.99 214.69,152.93 215.23,152.88 215.78,152.85 216.32,152.83 216.87,152.81 217.41,152.80 217.96,152.79 218.50,152.78 219.05,152.77 219.59,152.77 220.14,152.76 220.68,152.76 221.22,152.75 221.77,152.75 222.31,152.75 222.86,152.74 223.40,152.74 223.95,152.74 224.49,152.74 225.04,152.73 225.58,152.73 226.13,152.73 226.67,152.73 227.22,152.72 227.76,152.72 228.31,152.72 228.85,152.72 229.40,152.71 229.94,152.71 230.49,152.71 231.03,152.71 231.58,152.70 232.12,152.70 232.66,152.70 233.21,152.70 233.75,152.69 234.30,152.69 234.84,152.69 235.39,152.69 235.93,152.68 236.48,152.68 237.02,152.68 237.57,152.68 238.11,152.67 238.66,152.67 239.20,152.67 239.75,152.67 240.29,152.66 240.84,152.66 241.38,152.66 241.93,152.66 242.47,152.65 243.01,152.65 243.56,152.65 244.10,152.65 244.65,152.64 245.19,152.64 245.74,152.64 246.28,152.64 246.83,152.63 247.37,152.63 247.92,152.63 248.46,152.63 249.01,152.62 249.55,152.62 250.10,152.62 250.64,152.62 251.19,152.61 251.73,152.61 252.28,152.61 252.82,152.61 253.37,152.60 253.91,152.60 254.45,152.60 255.00,152.60 255.54,152.59 256.09,152.59 256.63,152.59 257.18,152.59 257.72,152.58 258.27,152.58 258.81,152.58 259.36,152.58 259.90,152.57 260.45,152.57 260.99,152.57 261.54,152.57 262.08,152.56 262.63,152.56 263.17,152.56 263.72,152.56 264.26,152.55 264.81,152.55 265.35,152.55 265.89,152.55 266.44,152.54 266.98,152.54 267.53,152.54 268.07,152.54 268.62,152.53 269.16,152.53 269.71,152.53 270.25,152.53 270.80,152.52 271.34,152.52 271.89,152.52 272.43,152.52 272.98,152.51 273.52,152.51 274.07,152.51 274.61,152.51" fill="none" stroke="#f00" stroke-width="1.5"/><polyline points="56.71,235.30 57.26,235.30 57.80,235.30 58.34,235.30 58.89,235.29 59.43,235.29 59.98,235.29 60.52,235.29 61.07,235.28 61.61,235.28 62.16,235.28 62.70,235.28 63.25,235.27 63.79,235.27 64.34,235.27 64.88,235.27 65.43,235.26 65.97,235.26 66.52,235.26 67.06,235.26 67.61,235.25 68.15,235.25 68.69,235.25 69.24,235.25 69.78,235.24 70.33,235.24 70.87,235.24 71.42,235.24 71.96,235.23 72.51,235.23 73.05,235.23 73.60,235.23 74.14,235.22 74.69,235.22 75.23,235.22 75.78,235.22 76.32,235.21 76.87,235.21 77.41,235.21 77.96,235.21 78.50,235.20 79.05,235.20 79.59,235.20 80.13,235.20 80.68,235.19 81.22,235.19 81.77,235.19 82.31,235.19 82.86,235.18 83.40,235.18 83.95,235.18 84.49,235.18 85.04,235.17 85.58,235.17 86.13,235.17 86.67,235.17 87.22,235.16 87.76,235.16 88.31,235.16 88.85,235.16 89.40,235.15 89.94,235.15 90.48,235.15 91.03,235.15 91.57,235.14 92.12,235.14 92.66,235.14 93.21,235.14 93.75,235.13 94.30,235.13 94.84,235.13 95.39,235.13 95.93,235.12 96.48,235.12 97.02,235.12 97.57,235.12 98.11,235.11 98.66,235.11 99.20,235.11 99.75,235.11 100.29,235.10 100.84,235.10 101.38,235.10 101.92,235.10 102.47,235.09 103.01,235.09 103.56,235.09 104.10,235.09 104.65,235.08 105.19,235.08 105.74,235.08 106.28,235.08 106.83,235.07 107.37,235.07 107.92,235.07 108.46,235.07 109.01,235.06 109.55,235.06 110.10,235.06 110.64,235.06 111.19,235.05 111.73,235.05 112.28,235.04 112.82,235.04 113.36,235.03 113.91,235.03 114.45,235.02 115.00,235.01 115.54,235.00 116.09,234.98 116.63,234.96 117.18,234.94 117.72,234.90 118.27,234.85 118.81,234.78 119.36,234.69 119.90,234.57 120.45,234.42 120.99,234.24 121.54,234.02 122.08,233.76 122.63,233.46 123.17,233.14 123.71,232.80 124.26,232.44 124.80,232.06 125.35,231.68 125.89,231.28 126.44,230.88 126.98,230.47 127.53,230.06 128.07,229.65 128.62,229.24 129.16,228.82 129.71,228.39 130.25,227.97 130.80,227.54 131.34,227.12 131.89,226.69 132.43,226.25 132.98,225.82 133.52,225.38 134.06,224.94 134.61,224.50 135.15,224.06 135.70,223.61 136.24,223.16 136.79,222.71 137.33,222.26 137.88,221.81 138.42,221.35 138.97,220.90 139.51,220.44 140.06,219.98 140.60,219.52 141.15,219.05 141.69,218.58 142.24,218.12 142.78,217.65 143.33,217.18 143.87,216.70 144.42,216.23 144.96,215.75 145.50,215.27 146.05,214.79 146.59,214.31 147.14,213.83 147.68,213.35 148.23,212.86 148.77,212.38 149.32,211.89 149.86,211.40 150.41,210.91 150.95,210.42 151.50,209.92 152.04,209.43 152.59,208.93 153.13,208.44 153.68,207.94 154.22,207.44 154.77,206.94 155.31,206.44 155.85,205.94 156.40,205.43 156.94,204.93 157.49,204.43 158.03,203.92 158.58,203.41 159.12,202.91 159.67,202.40 160.21,201.89 160.76,201.38 161.30,200.87 161.85,200.36 162.39,199.85 162.94,199.34 163.48,198.83 164.03,198.32 164.57,197.81 165.12,197.30 165.66,196.78 166.21,196.27 166.75,195.76 167.29,195.25 167.84,194.73 168.38,194.22 168.93,193.71 169.47,193.19 170.02,192.68 170.56,192.17 171.11,191.65 171.65,191.14 172.20,190.63 172.74,190.12 173.29,189.60 173.83,189.09 174.38,188.58 174.92,188.07 175.47,187.56 176.01,187.05 176.56,186.54 177.10,186.03 177.65,185.52 178.19,185.02 178.73,184.51 179.28,184.00 179.82,183.50 180.37,182.99 180.91,182.49 181.46,181.99 182.00,181.48 182.55,180.98 183.09,180.48 183.64,179.98 184.18,179.49 184.73,178.99 185.27,178.49 185.82,178.00 186.36,177.50 186.91,177.01 187.45,176.52 188.00,176.03 188.54,175.54 189.08,175.06 189.63,174.57 190.17,174.09 190.72,173.60 191.26,173.12 191.81,172.64 192.35,172.16 192.90,171.69 193.44,171.21 193.99,170.74 194.53,170.27 195.08,169.80 195.62,169.33 196.17,168.86 196.71,168.40 197.26,167.93 197.80,167.47 198.35,167.01 198.89,166.55 199.44,166.10 199.98,165.65 200.52,165.19 201.07,164.74 201.61,164.30 202.16,163.85 202.70,163.41 203.25,162.96 203.79,162.52 204.34,162.09 204.88,161.65 205.43,161.22 205.97,160.79 206.52,160.36 207.06,159.93 207.61,159.51 208.15,159.08 208.70,158.66 209.24,158.25 209.79,157.83 210.33,157.42 210.87,157.01 211.42,156.61 211.96,156.22 212.51,155.83 213.05,155.45 213.60,155.08 214.14,154.73 214.69,154.40 215.23,154.10 215.78,153.84 216.32,153.60 216.87,153.41 217.41,153.25 217.96,153.12 218.50,153.02 219.05,152.95 219.59,152.90 220.14,152.86 220.68,152.83 221.22,152.80 221.77,152.79 222.31,152.77 222.86,152.76 223.40,152.75 223.95,152.75 224.49,152.74 225.04,152.74 225.58,152.73 226.13,152.73 226.67,152.73 227.22,152.72 227.76,152.72 228.31,152.72 228.85,152.72 229.40,152.71 229.94,152.71 230.49,152.71 231.03,152.71 231.58,152.70 232.12,152.70 232.66,152.70 233.21,152.70 233.75,152.69 234.30,152.69 234.84,152.69 235.39,152.69 235.93,152.68 236.48,152.68 237.02,152.68 237.57,152.68 238.11,152.67 238.66,152.67 239.20,152.67 239.75,152.67 240.29,152.66 240.84,152.66 241.38,152.66 241.93,152.66 242.47,152.65 243.01,152.65 243.56,152.65 244.10,152.65 244.65,152.64 245.19,152.64 245.74,152.64 246.28,152.64 246.83,152.63 247.37,152.63 247.92,152.63 248.46,152.63 249.01,152.62 249.55,152.62 250.10,152.62 250.64,152.62 251.19,152.61 251.73,152.61 252.28,152.61 252.82,152.61 253.37,152.60 253.91,152.60 254.45,152.60 255.00,152.60 255.54,152.59 256.09,152.59 256.63,152.59 257.18,152.59 257.72,152.58 258.27,152.58 258.81,152.58 259.36,152.58 259.90,152.57 260.45,152.57 260.99,152.57 261.54,152.57 262.08,152.56 262.63,152.56 263.17,152.56 263.72,152.56 264.26,152.55 264.81,152.55 265.35,152.55 265.89,152.55 266.44,152.54 266.98,152.54 267.53,152.54 268.07,152.54 268.62,152.53 269.16,152.53 269.71,152.53 270.25,152.53 270.80,152.52 271.34,152.52 271.89,152.52 272.43,152.52 272.98,152.51 273.52,152.51 274.07,152.51 274.61,152.51" fill="none" stroke="#f00" stroke-width="1.5"/></g>
<rect x="57.5" y="146.0" width="218.39999999999998" height="96.0" fill="none" stroke="#2e2e2e" stroke-width="1.3"/>
<line x1="70.4" y1="161.3" x2="93" y2="161.3" stroke="#000" stroke-width="2"/>
<line x1="70.4" y1="179.3" x2="93" y2="179.3" stroke="#f00" stroke-width="1.5"/>
<text x="96.2" y="164.6" font-family="Liberation Sans, sans-serif" font-size="11" text-anchor="start" fill="#000" >in-plane</text>
<text x="96.2" y="182.6" font-family="Liberation Sans, sans-serif" font-size="11" text-anchor="start" fill="#000" >out-of-plane</text>
<text x="166.8" y="271.3" font-family="Liberation Sans, sans-serif" font-size="13" text-anchor="middle" fill="#000" >Field (T)</text>
<g transform="translate(25.9,185.6) rotate(-90)"><text x="0" y="0" font-family="Liberation Serif, serif" font-size="14" font-style="italic" text-anchor="middle">M<tspan font-style="normal" dx="2">/</tspan><tspan dx="2">M</tspan><tspan font-size="8.8" font-style="normal" dy="1.6">S</tspan></text></g>
<rect x="296" y="117.5" width="12" height="20.5" fill="#000"/>
<text class="w" x="302" y="133.0" font-family="Liberation Sans, sans-serif" font-size="15" fill="#fff" text-anchor="middle">d</text>
<g stroke="#000" stroke-width="1.3" fill="none"><line x1="319.8" y1="157" x2="319.8" y2="143"/><line x1="319.2" y1="156.4" x2="347" y2="156.4"/></g><line x1="320" y1="156.2" x2="327" y2="151.2" stroke="#444" stroke-width="0.9"/>
<path d="M319.8,133.5 L316.2,143.9 L323.4,143.9Z" fill="#000"/>
<path d="M355,156.4 L344.2,152.8 L344.2,160Z" fill="#000"/>
<path d="M333.8,146.2 L322.9,150.2 L328.7,154.8Z" fill="#000"/>
<text x="325.2" y="129.8" font-family="Liberation Serif, serif" font-size="16" text-anchor="middle" fill="#000" font-style="italic">z</text>
<text x="340" y="141.2" font-family="Liberation Serif, serif" font-size="16" text-anchor="middle" fill="#000" font-style="italic">y</text>
<text x="361.6" y="152.2" font-family="Liberation Serif, serif" font-size="16" text-anchor="middle" fill="#000" font-style="italic">x</text>
<text x="441.3" y="157" font-family="Liberation Serif, serif" font-size="12.6" text-anchor="middle" fill="#000" class="b" textLength="122" lengthAdjust="spacingAndGlyphs">Magnetic stripe domain</text>
<path d="M341,168.8 L341.6,166.1 L444.6,166.1 L445.7,163.6 L446.8,166.1 L548.9,166.1 L549.6,168.8" fill="none" stroke="#3a3a3a" stroke-width="1.1"/>
<rect x="340.9" y="171.3" width="208.8" height="25.3" fill="#c29000"/>
<rect x="340.9" y="196.6" width="208.8" height="54.6" fill="#6eac48"/>
<path d="M347.2,174.2 L343.7,181 L346.09999999999997,181 L346.09999999999997,193.7 L348.3,193.7 L348.3,181 L350.7,181Z" fill="#fff"/>
<path d="M360.6,174.2 L357.1,181 L359.5,181 L359.5,193.7 L361.70000000000005,193.7 L361.70000000000005,181 L364.1,181Z" fill="#fff"/>
<path d="M378.2,193.8 L374.7,187 L377.09999999999997,187 L377.09999999999997,174 L379.3,174 L379.3,187 L381.7,187Z" fill="#fff"/>
<path d="M394.4,174.2 L390.9,181 L393.29999999999995,181 L393.29999999999995,193.7 L395.5,193.7 L395.5,181 L397.9,181Z" fill="#fff"/>
<path d="M410.3,193.8 L406.8,187 L409.2,187 L409.2,174 L411.40000000000003,174 L411.40000000000003,187 L413.8,187Z" fill="#fff"/>
<path d="M427,174.2 L423.5,181 L425.9,181 L425.9,193.7 L428.1,193.7 L428.1,181 L430.5,181Z" fill="#fff"/>
<path d="M443.5,174.2 L440.0,181 L442.4,181 L442.4,193.7 L444.6,193.7 L444.6,181 L447.0,181Z" fill="#fff"/>
<path d="M461.4,174.2 L457.9,181 L460.29999999999995,181 L460.29999999999995,193.7 L462.5,193.7 L462.5,181 L464.9,181Z" fill="#fff"/>
<path d="M476.6,193.8 L473.1,187 L475.5,187 L475.5,174 L477.70000000000005,174 L477.70000000000005,187 L480.1,187Z" fill="#fff"/>
<path d="M493.6,174.2 L490.1,181 L492.5,181 L492.5,193.7 L494.70000000000005,193.7 L494.70000000000005,181 L497.1,181Z" fill="#fff"/>
<path d="M510.6,174.2 L507.1,181 L509.5,181 L509.5,193.7 L511.70000000000005,193.7 L511.70000000000005,181 L514.1,181Z" fill="#fff"/>
<path d="M526.4,193.8 L522.9,187 L525.3,187 L525.3,174 L527.5,174 L527.5,187 L529.9,187Z" fill="#fff"/>
<path d="M542.8,193.8 L539.3,187 L541.6999999999999,187 L541.6999999999999,174 L543.9,174 L543.9,187 L546.3,187Z" fill="#fff"/>
<text x="321" y="186.4" font-family="Liberation Serif, serif" font-size="11.6" text-anchor="middle" fill="#000" class="b" textLength="21" lengthAdjust="spacingAndGlyphs">CGT</text>
<text class="b" x="305.4" y="226.8" font-family="Liberation Serif, serif" font-size="11.8">NbSe<tspan font-size="7.2" dx="0.3" dy="2.6">2</tspan></text>
<text x="383" y="215.6" font-family="Liberation Serif, serif" font-size="13.6" text-anchor="middle" fill="#000" class="b" textLength="76" lengthAdjust="spacingAndGlyphs">pinning center</text>
<line x1="423" y1="199" x2="410" y2="203.3" stroke="#000" stroke-width="1.3"/>
<path d="M404.8,204.8 L410.8,200.6 L412,205Z" fill="#000"/>
<circle cx="387" cy="228.9" r="6.5" fill="none" stroke="#000" stroke-width="1.8"/>
<path d="M382.4,224.3 L391.6,233.5 M391.6,224.3 L382.4,233.5" stroke="#000" stroke-width="1.6"/>
<text x="367.8" y="244" font-family="Liberation Serif, serif" font-size="13" font-style="italic">F<tspan font-size="8.5" font-style="normal" dy="2">Lorentz</tspan></text>
<circle cx="500" cy="229.4" r="6.9" fill="none" stroke="#000" stroke-width="2"/>
<circle cx="500" cy="229.4" r="2.3" fill="#000"/>
<line x1="454.5" y1="199.3" x2="489" y2="199.3" stroke="#f00" stroke-width="2.6"/>
<path d="M497,199.3 L488,195 L488,203.6Z" fill="#f00"/>
<text x="459.5" y="211.6" font-family="Liberation Serif, serif" font-size="12.5" font-style="italic">B<tspan font-size="8.5" dy="2">x</tspan><tspan dy="-2">(O)</tspan></text>
<line x1="533" y1="243.2" x2="533" y2="206" stroke="#f00" stroke-width="2.8"/>
<path d="M533,198.3 L528.5,207.5 L537.5,207.5Z" fill="#f00"/>
<text x="517" y="216" font-family="Liberation Serif, serif" font-size="12.5" font-style="italic">B<tspan font-size="8.5" dy="2">z</tspan></text>
<line x1="554.1" y1="202" x2="554.1" y2="246" stroke="#000" stroke-width="1.2"/>
<path d="M554.1,197.8 L551.3,204.6 L554.1,203.6 L556.9,204.6Z M554.1,250 L551.3,243.2 L554.1,244.2 L556.9,243.2Z" fill="#000"/>
<text x="557" y="227.8" font-family="Liberation Serif, serif" font-size="13.5" font-style="italic">d<tspan font-size="8.6" font-style="normal" dy="1.6">SC</tspan></text>
<path d="M427.6,196.5 L427.6,251" fill="none" stroke="#1f4696" stroke-width="6.0"/>
<path d="M427.6,196.5 L427.6,251" fill="none" stroke="#4a84e0" stroke-width="4.0"/>
<path d="M427.6,196.5 L427.6,251" fill="none" stroke="#9fc2f8" stroke-width="1.4" transform="translate(0.6,-0.4)"/>
<path d="M427.60,196.40 L427.65,196.91 L427.71,197.59 L427.78,198.40 L427.86,199.29 L427.95,200.24 L428.05,201.20 L428.17,202.13 L428.30,203.00 L428.43,203.81 L428.55,204.62 L428.68,205.42 L428.82,206.22 L428.99,207.02 L429.20,207.84 L429.47,208.66 L429.80,209.50 L430.20,210.38 L430.66,211.30 L431.18,212.24 L431.73,213.18 L432.32,214.11 L432.93,215.00 L433.56,215.84 L434.20,216.60 L434.86,217.30 L435.55,217.96 L436.27,218.57 L437.01,219.14 L437.76,219.67 L438.52,220.16 L439.27,220.60 L440.00,221.00 L440.73,221.33 L441.45,221.59 L442.18,221.80 L442.90,221.97 L443.62,222.12 L444.35,222.26 L445.07,222.41 L445.80,222.60 L446.53,222.80 L447.25,222.98 L447.98,223.15 L448.71,223.33 L449.44,223.53 L450.16,223.75 L450.88,224.00 L451.60,224.30 L452.31,224.64 L453.03,225.02 L453.74,225.42 L454.44,225.86 L455.15,226.31 L455.84,226.79 L456.53,227.29 L457.20,227.80 L457.87,228.33 L458.53,228.88 L459.19,229.44 L459.84,230.03 L460.48,230.64 L461.11,231.27 L461.71,231.92 L462.30,232.60 L462.87,233.31 L463.43,234.05 L463.97,234.82 L464.49,235.61 L465.00,236.41 L465.49,237.22 L465.96,238.02 L466.40,238.80 L466.82,239.58 L467.23,240.35 L467.62,241.12 L467.98,241.90 L468.32,242.68 L468.64,243.45 L468.94,244.23 L469.20,245.00 L469.43,245.82 L469.64,246.70 L469.82,247.60 L469.98,248.49 L470.11,249.33 L470.22,250.09 L470.32,250.72 L470.40,251.20" fill="none" stroke="#1f4696" stroke-width="6.0"/>
<path d="M427.60,196.40 L427.65,196.91 L427.71,197.59 L427.78,198.40 L427.86,199.29 L427.95,200.24 L428.05,201.20 L428.17,202.13 L428.30,203.00 L428.43,203.81 L428.55,204.62 L428.68,205.42 L428.82,206.22 L428.99,207.02 L429.20,207.84 L429.47,208.66 L429.80,209.50 L430.20,210.38 L430.66,211.30 L431.18,212.24 L431.73,213.18 L432.32,214.11 L432.93,215.00 L433.56,215.84 L434.20,216.60 L434.86,217.30 L435.55,217.96 L436.27,218.57 L437.01,219.14 L437.76,219.67 L438.52,220.16 L439.27,220.60 L440.00,221.00 L440.73,221.33 L441.45,221.59 L442.18,221.80 L442.90,221.97 L443.62,222.12 L444.35,222.26 L445.07,222.41 L445.80,222.60 L446.53,222.80 L447.25,222.98 L447.98,223.15 L448.71,223.33 L449.44,223.53 L450.16,223.75 L450.88,224.00 L451.60,224.30 L452.31,224.64 L453.03,225.02 L453.74,225.42 L454.44,225.86 L455.15,226.31 L455.84,226.79 L456.53,227.29 L457.20,227.80 L457.87,228.33 L458.53,228.88 L459.19,229.44 L459.84,230.03 L460.48,230.64 L461.11,231.27 L461.71,231.92 L462.30,232.60 L462.87,233.31 L463.43,234.05 L463.97,234.82 L464.49,235.61 L465.00,236.41 L465.49,237.22 L465.96,238.02 L466.40,238.80 L466.82,239.58 L467.23,240.35 L467.62,241.12 L467.98,241.90 L468.32,242.68 L468.64,243.45 L468.94,244.23 L469.20,245.00 L469.43,245.82 L469.64,246.70 L469.82,247.60 L469.98,248.49 L470.11,249.33 L470.22,250.09 L470.32,250.72 L470.40,251.20" fill="none" stroke="#4a84e0" stroke-width="4.0"/>
<path d="M427.60,196.40 L427.65,196.91 L427.71,197.59 L427.78,198.40 L427.86,199.29 L427.95,200.24 L428.05,201.20 L428.17,202.13 L428.30,203.00 L428.43,203.81 L428.55,204.62 L428.68,205.42 L428.82,206.22 L428.99,207.02 L429.20,207.84 L429.47,208.66 L429.80,209.50 L430.20,210.38 L430.66,211.30 L431.18,212.24 L431.73,213.18 L432.32,214.11 L432.93,215.00 L433.56,215.84 L434.20,216.60 L434.86,217.30 L435.55,217.96 L436.27,218.57 L437.01,219.14 L437.76,219.67 L438.52,220.16 L439.27,220.60 L440.00,221.00 L440.73,221.33 L441.45,221.59 L442.18,221.80 L442.90,221.97 L443.62,222.12 L444.35,222.26 L445.07,222.41 L445.80,222.60 L446.53,222.80 L447.25,222.98 L447.98,223.15 L448.71,223.33 L449.44,223.53 L450.16,223.75 L450.88,224.00 L451.60,224.30 L452.31,224.64 L453.03,225.02 L453.74,225.42 L454.44,225.86 L455.15,226.31 L455.84,226.79 L456.53,227.29 L457.20,227.80 L457.87,228.33 L458.53,228.88 L459.19,229.44 L459.84,230.03 L460.48,230.64 L461.11,231.27 L461.71,231.92 L462.30,232.60 L462.87,233.31 L463.43,234.05 L463.97,234.82 L464.49,235.61 L465.00,236.41 L465.49,237.22 L465.96,238.02 L466.40,238.80 L466.82,239.58 L467.23,240.35 L467.62,241.12 L467.98,241.90 L468.32,242.68 L468.64,243.45 L468.94,244.23 L469.20,245.00 L469.43,245.82 L469.64,246.70 L469.82,247.60 L469.98,248.49 L470.11,249.33 L470.22,250.09 L470.32,250.72 L470.40,251.20" fill="none" stroke="#9fc2f8" stroke-width="1.4" transform="translate(0.6,-0.4)"/>
<line x1="434" y1="256.6" x2="463" y2="256.6" stroke="#000" stroke-width="1.6"/>
<path d="M430.8,256.6 L436.5,253.6 L436.5,259.6Z M465.8,256.6 L460,253.6 L460,259.6Z" fill="#000"/>
<path d="M445.7,264.5 C443.6,264.5 442.9,266 442.35,267.1 C441.8,268.2 441,269.7 439.8,269.7 C438.8,269.7 438.5,268.3 438.5,267.1 C438.5,265.9 438.8,264.5 439.8,264.5 C441,264.5 441.8,266 442.35,267.1 C442.9,268.2 443.6,269.7 445.7,269.7" fill="none" stroke="#000" stroke-width="1.15"/>
<text x="446.9" y="270.4" font-family="Liberation Serif, serif" font-size="13.2" font-style="italic">γI</text>
</svg>
</body></html>
